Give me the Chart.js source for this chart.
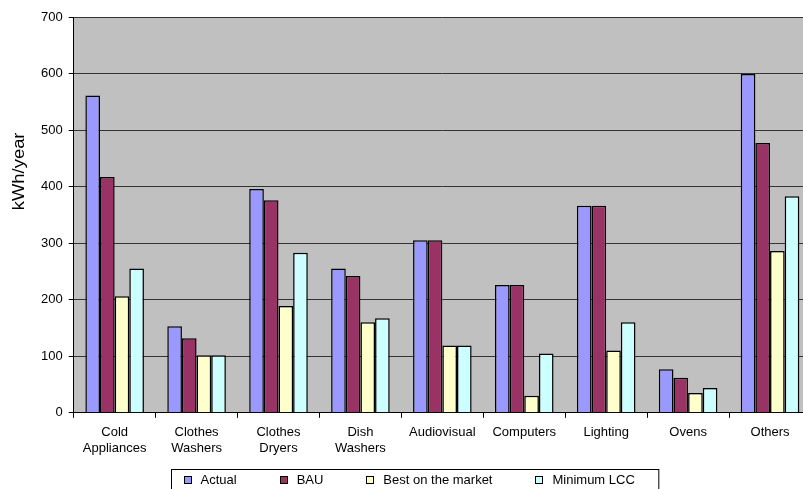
<!DOCTYPE html>
<html>
<head>
<meta charset="utf-8">
<script src="https://cdn.jsdelivr.net/npm/chart.js@4/dist/chart.umd.min.js"></script>
<style>
  html, body { margin: 0; padding: 0; background: #fff; overflow: hidden; }
  #wrap { width: 830px; height: 489px; position: relative; }
</style>
</head>
<body>
<div id="wrap"><canvas id="chart"></canvas></div>
<script>
// categories and series
const categories = [
  ['Cold', 'Appliances'], ['Clothes', 'Washers'], ['Clothes', 'Dryers'], ['Dish', 'Washers'],
  'Audiovisual', 'Computers', 'Lighting', 'Ovens', 'Others'
];
const actual = [561, 153, 396, 255, 305, 226, 366, 77, 599];
const bau = [417, 132, 376, 242, 305, 226, 366, 62, 477];
const bestOnMarket = [206, 102, 189, 160, 119, 30, 110, 35, 286];
const minimumLcc = [255, 102, 283, 167, 119, 105, 160, 44, 383];
const yTicks = [0, 100, 200, 300, 400, 500, 600, 700];
const yTitle = 'kWh/year';

const FONT = "'Liberation Sans', Arial, sans-serif";

// grey plot area like old Excel charts
const plotBackground = {
  id: 'plotBackground',
  beforeDraw(chart) {
    const { ctx, chartArea: a } = chart;
    ctx.save();
    ctx.fillStyle = '#C0C0C0';
    ctx.fillRect(a.left, a.top, a.right - a.left, a.bottom - a.top);
    ctx.restore();
  }
};

// axis title sits above the middle of the axis in the original
const sideTitle = {
  id: 'sideTitle',
  afterDraw(chart) {
    const { ctx, chartArea: a } = chart;
    ctx.save();
    ctx.translate(a.left - 54, a.top + a.height * 0.39);
    ctx.rotate(-Math.PI / 2);
    ctx.scale(1.15, 1);
    ctx.font = '16px ' + FONT;
    ctx.fillStyle = '#000';
    ctx.textAlign = 'center';
    ctx.textBaseline = 'middle';
    ctx.fillText(yTitle, 0, 0);
    ctx.restore();
  }
};

// boxed legend at the bottom
const boxLegend = {
  id: 'boxLegend',
  afterDraw(chart) {
    const { ctx } = chart;
    const sets = chart.data.datasets;
    const mark = 8, markGap = 9, itemGap = 43;
    ctx.save();
    ctx.font = '13px ' + FONT;
    const widths = sets.map(d => ctx.measureText(d.label).width);
    let total = 0;
    widths.forEach((w, i) => { total += mark + markGap + w + (i < widths.length - 1 ? itemGap : 0); });
    const boxW = total + 12 + 24;
    const boxL = Math.round(chart.width / 2 - boxW / 2) + 0.5;
    const boxT = 469.5;
    ctx.strokeStyle = '#000';
    ctx.lineWidth = 1;
    ctx.strokeRect(boxL, boxT, boxW, 30);
    let x = boxL + 12;
    const cy = 480;
    sets.forEach((d, i) => {
      const mx = Math.round(x);
      ctx.fillStyle = d.backgroundColor;
      ctx.fillRect(mx, cy - 4, mark, mark);
      ctx.strokeStyle = '#000';
      ctx.strokeRect(mx + 0.5, cy - 4 + 0.5, mark - 1, mark - 1);
      ctx.fillStyle = '#000';
      ctx.textAlign = 'left';
      ctx.textBaseline = 'middle';
      ctx.fillText(d.label, x + mark + markGap, cy + 0.5);
      x += mark + markGap + widths[i] + itemGap;
    });
    ctx.restore();
  }
};

function bars(label, data, color) {
  return {
    label: label,
    data: data,
    backgroundColor: color,
    borderColor: '#000',
    borderWidth: 1.5,
    categoryPercentage: 0.715,
    barPercentage: 1
  };
}

new Chart(document.getElementById('chart'), {
  type: 'bar',
  data: {
    labels: categories,
    datasets: [
      bars('Actual', actual, '#9999FF'),
      bars('BAU', bau, '#993366'),
      bars('Best on the market', bestOnMarket, '#FFFFCC'),
      bars('Minimum LCC', minimumLcc, '#CCFFFF')
    ]
  },
  options: {
    responsive: true,
    maintainAspectRatio: false,
    animation: false,
    layout: { padding: { left: 35, right: 19, top: 17, bottom: 26 } },
    plugins: {
      legend: { display: false },
      tooltip: { enabled: false }
    },
    scales: {
      x: {
        grid: { display: true, drawOnChartArea: false, color: '#000', tickLength: 5, offset: true },
        border: { display: true, color: '#000' },
        ticks: { color: '#000', font: { family: FONT, size: 13 }, padding: 7, maxRotation: 0, autoSkip: false }
      },
      y: {
        min: 0,
        max: 700,
        afterBuildTicks(scale) { scale.ticks = yTicks.map(v => ({ value: v })); },
        grid: { color: '#333', tickColor: '#000', tickLength: 5 },
        border: { display: true, color: '#000' },
        ticks: { color: '#000', font: { family: FONT, size: 13 }, padding: 6 }
      }
    }
  },
  plugins: [plotBackground, sideTitle, boxLegend]
});
</script>
</body>
</html>
